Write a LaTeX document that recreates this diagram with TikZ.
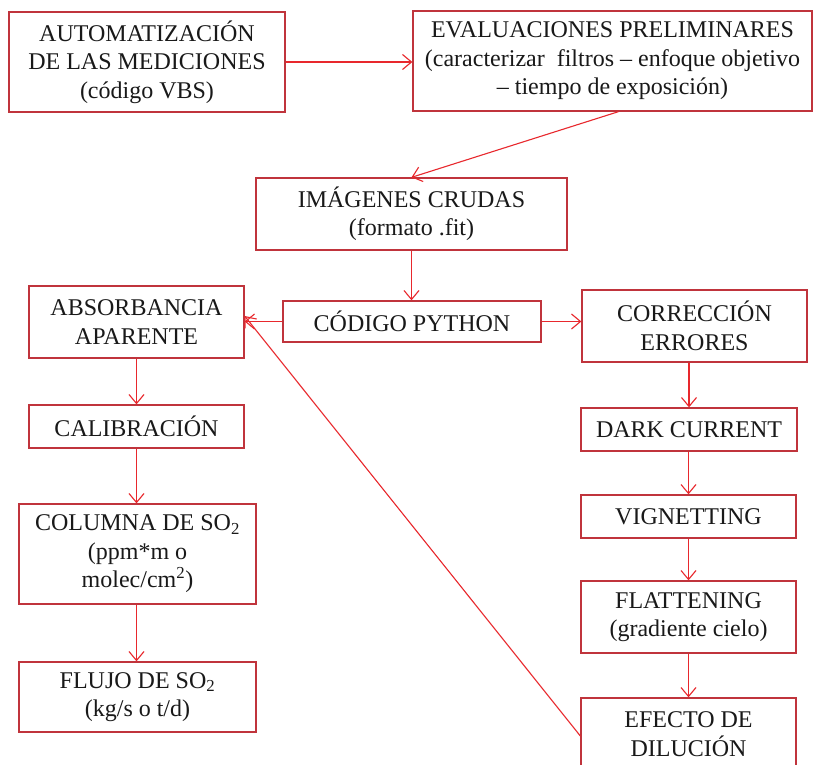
\documentclass[tikz,border=0pt]{standalone}
\usepackage{fontspec}
\setmainfont{LiberationSerif}[Extension=.ttf, UprightFont=*-Regular, BoldFont=*-Bold, ItalicFont=*-Italic, BoldItalicFont=*-BoldItalic]
\usetikzlibrary{arrows.meta}
\definecolor{boxred}{RGB}{192,52,60}
\definecolor{arrred}{RGB}{232,40,45}
\tikzset{
  box/.style={draw=boxred, line width=1.3pt, fill=white, align=center, inner sep=0pt,
    font=\fontsize{24}{28.5}\selectfont, text=black!90},
  conn/.style={draw=arrred, line width=1.1pt, -{Straight Barb[length=9pt,width=15pt,line width=1.1pt]}}
}
\begin{document}
\begin{tikzpicture}[x=1pt,y=-1pt]
\useasboundingbox (0,0) rectangle (814,765);
\clip (0,0) rectangle (814,765);
\fill[white] (0,0) rectangle (814,765);

\node[box, minimum width=276pt, minimum height=100pt] (auto) at (147,62)
  {AUTOMATIZACIÓN\\DE LAS MEDICIONES\\(código VBS)};
\node[box, minimum width=399pt, minimum height=100pt] (eval) at (612.5,61)
  {EVALUACIONES PRELIMINARES\\(caracterizar\ \ filtros – enfoque objetivo\\– tiempo de exposición)};
\node[box, minimum width=311pt, minimum height=72pt] (img) at (411.5,214)
  {IMÁGENES CRUDAS\\(formato .fit)};
\node[box, minimum width=258pt, minimum height=41pt] (py) at (412,321.5)
  {CÓDIGO PYTHON};
\node[box, minimum width=215pt, minimum height=72pt] (abs) at (136.5,322)
  {ABSORBANCIA\\APARENTE};
\node[box, minimum width=225pt, minimum height=72pt] (corr) at (694.5,326)
  {CORRECCIÓN\\ERRORES};
\node[box, minimum width=215pt, minimum height=43pt] (cal) at (136.5,426.5)
  {CALIBRACIÓN};
\node[box, minimum width=216pt, minimum height=43pt] (dark) at (689,429.5)
  {DARK CURRENT};
\node[box, minimum width=237pt, minimum height=100pt] (col) at (137.5,554)
  {COLUMNA DE SO\textsubscript{2}\\(ppm*m o\\molec/cm\textsuperscript{2})};
\node[box, minimum width=237pt, minimum height=70pt] (flujo) at (137.5,697)
  {FLUJO DE SO\textsubscript{2}\\(kg/s o t/d)};
\node[box, minimum width=215pt, minimum height=43pt] (vig) at (688.5,516.5)
  {VIGNETTING};
\node[box, minimum width=215pt, minimum height=72pt] (flat) at (688.5,617)
  {FLATTENING\\(gradiente cielo)};
\node[box, minimum width=215pt, minimum height=72pt] (efecto) at (688.5,734)
  {EFECTO DE\\DILUCIÓN};

\draw[conn] (auto.east) -- (auto.east -| eval.west);
\draw[conn] ([xshift=6pt]eval.south) -- (img.north);
\draw[conn] (img.south) -- (img.south |- py.north);
\draw[conn] (py.west) -- (py.west -| abs.east);
\draw[conn] (py.east) -- (py.east -| corr.west);
\draw[conn] (abs.south) -- (cal.north);
\draw[conn] (cal.south) -- (cal.south |- col.north);
\draw[conn] (cal.south |- col.south) -- (cal.south |- flujo.north);
\draw[conn] (dark.north |- corr.south) -- (dark.north);
\draw[conn] (vig.north |- dark.south) -- (vig.north);
\draw[conn] (vig.south) -- (flat.north);
\draw[conn] (flat.south) -- (efecto.north);
\draw[conn] ([yshift=-2pt]efecto.west) -- ([yshift=6pt]abs.east);
\end{tikzpicture}
\end{document}
